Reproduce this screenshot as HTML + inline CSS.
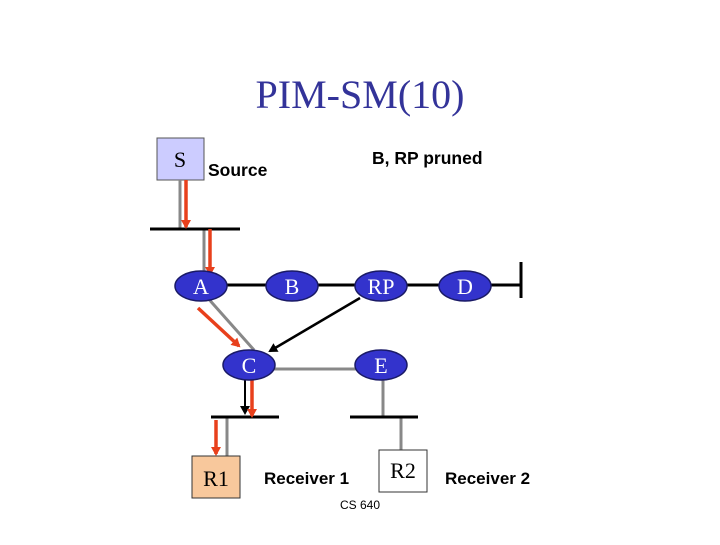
<!DOCTYPE html>
<html><head><style>body{margin:0;background:#fff}</style></head><body>
<svg width="720" height="540" viewBox="0 0 720 540" xmlns="http://www.w3.org/2000/svg">
<defs>
<marker id="r" markerWidth="10" markerHeight="10" refX="7" refY="5" orient="auto" markerUnits="userSpaceOnUse"><path d="M0,0 L9,5 L0,10 z" fill="#e8401c"/></marker>
<marker id="k" markerWidth="10" markerHeight="10" refX="7" refY="5" orient="auto" markerUnits="userSpaceOnUse"><path d="M0,0 L9,5 L0,10 z" fill="#000"/></marker>
</defs>
<text x="360" y="108" text-anchor="middle" font-family="Liberation Serif, serif" font-size="40" fill="#333399">PIM-SM(10)</text>
<rect x="157" y="138" width="47" height="42" fill="#ccccff" stroke="#555" stroke-width="1"/>
<text x="180" y="167" text-anchor="middle" font-family="Liberation Serif, serif" font-size="22">S</text>
<text x="208" y="176" font-family="Liberation Sans, sans-serif" font-weight="bold" font-size="17.5">Source</text>
<text x="372" y="164" font-family="Liberation Sans, sans-serif" font-weight="bold" font-size="17.5">B, RP pruned</text>
<g stroke="#888" stroke-width="3" fill="none">
<line x1="180" y1="180" x2="180" y2="229"/>
<line x1="204" y1="229" x2="204" y2="272"/>
<line x1="206" y1="296" x2="254" y2="350"/>
<line x1="272" y1="369" x2="360" y2="369"/>
<line x1="383" y1="378" x2="383" y2="417"/>
<line x1="401" y1="417" x2="401" y2="450"/>
<line x1="227" y1="417" x2="227" y2="456"/>
</g>
<g stroke="#000" stroke-width="3">
<line x1="150" y1="229" x2="240" y2="229"/>
<line x1="220" y1="285" x2="521" y2="285"/>
<line x1="521" y1="262" x2="521" y2="298"/>
<line x1="211" y1="417" x2="279" y2="417"/>
<line x1="350" y1="417" x2="418" y2="417"/>
</g>
<line x1="360" y1="298" x2="270" y2="351" stroke="#000" stroke-width="2.5" marker-end="url(#k)"/>
<line x1="245" y1="375" x2="245" y2="413" stroke="#000" stroke-width="2" marker-end="url(#k)"/>
<g stroke="#e8401c" stroke-width="3.5" marker-end="url(#r)">
<line x1="186" y1="180" x2="186" y2="227"/>
<line x1="210" y1="229" x2="210" y2="274"/>
<line x1="198" y1="308" x2="239" y2="346"/>
<line x1="252" y1="378" x2="252" y2="416"/>
<line x1="216" y1="420" x2="216" y2="454"/>
</g>
<g fill="#3333cc" stroke="#1a1a66" stroke-width="1.5">
<ellipse cx="201" cy="286" rx="26" ry="15"/>
<ellipse cx="292" cy="286" rx="26" ry="15"/>
<ellipse cx="381" cy="286" rx="26" ry="15"/>
<ellipse cx="465" cy="286" rx="26" ry="15"/>
<ellipse cx="249" cy="365" rx="26" ry="15"/>
<ellipse cx="381" cy="365" rx="26" ry="15"/>
</g>
<g fill="#fff" font-family="Liberation Serif, serif" font-size="22" text-anchor="middle">
<text x="201" y="294">A</text><text x="292" y="294">B</text><text x="381" y="294">RP</text>
<text x="465" y="294">D</text><text x="249" y="373">C</text><text x="381" y="373">E</text>
</g>
<rect x="192" y="456" width="48" height="42" fill="#f8c89c" stroke="#333" stroke-width="1"/>
<text x="216" y="486" text-anchor="middle" font-family="Liberation Serif, serif" font-size="22">R1</text>
<rect x="379" y="450" width="48" height="42" fill="#fff" stroke="#333" stroke-width="1"/>
<text x="403" y="478" text-anchor="middle" font-family="Liberation Serif, serif" font-size="22">R2</text>
<text x="264" y="484" font-family="Liberation Sans, sans-serif" font-weight="bold" font-size="17">Receiver 1</text>
<text x="445" y="484" font-family="Liberation Sans, sans-serif" font-weight="bold" font-size="17">Receiver 2</text>
<text x="360" y="509" text-anchor="middle" font-family="Liberation Sans, sans-serif" font-size="12">CS 640</text>
</svg>
</body></html>
